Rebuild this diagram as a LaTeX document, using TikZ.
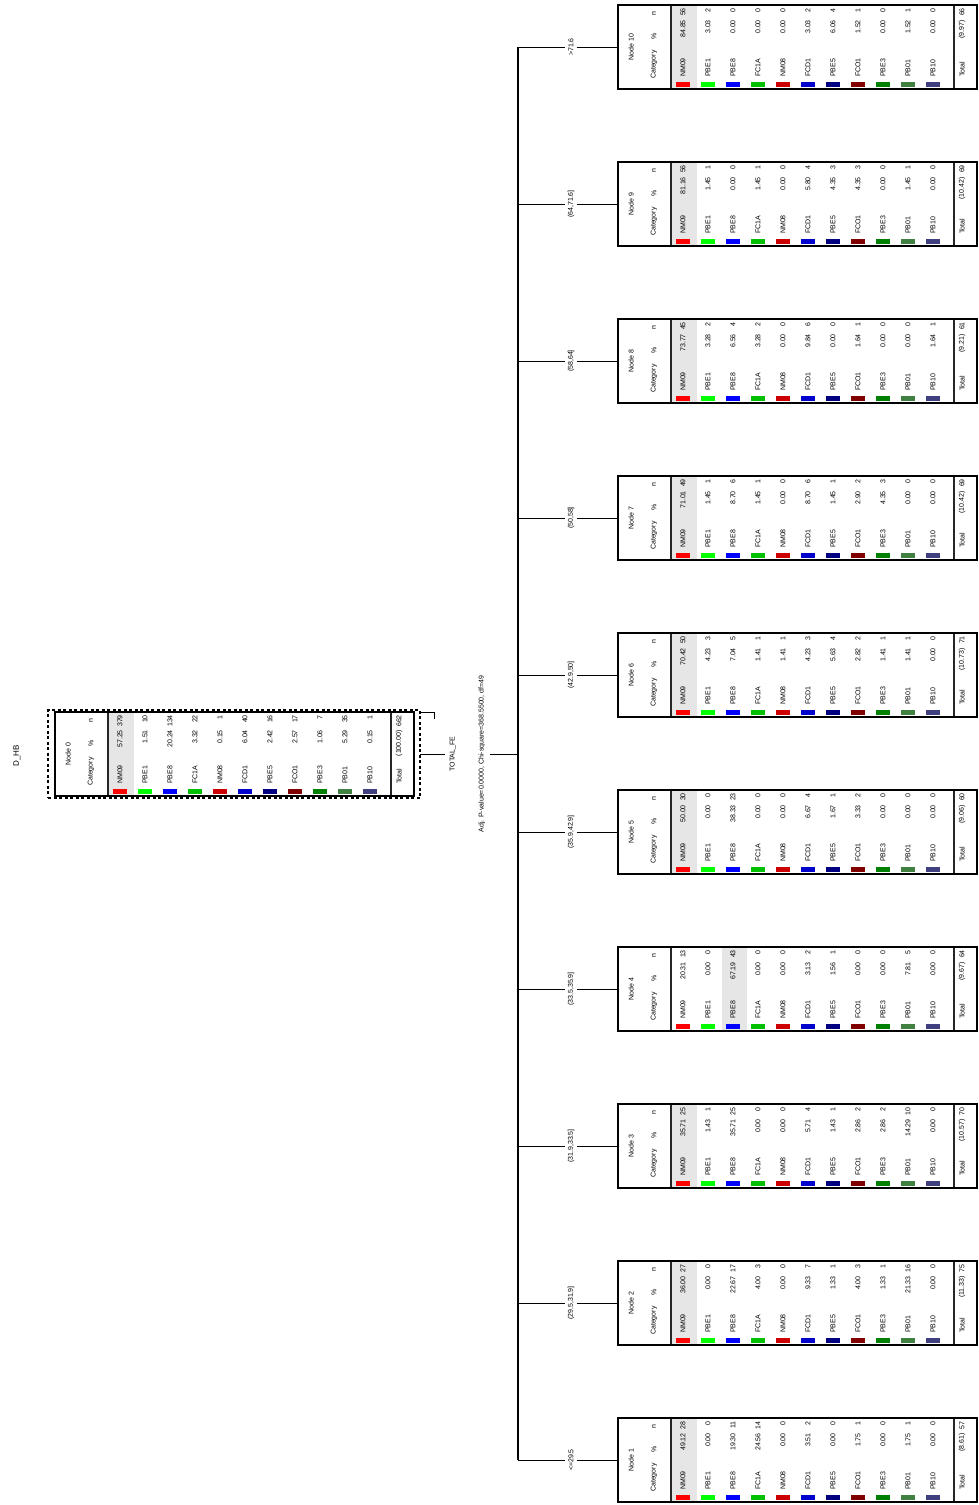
\documentclass[tikz,border=0pt]{standalone}
\usepackage{fontspec}
\setmainfont{Liberation Sans}
\definecolor{cat1}{RGB}{255,0,0}
\definecolor{cat2}{RGB}{0,255,0}
\definecolor{cat3}{RGB}{0,0,255}
\definecolor{cat4}{RGB}{0,192,0}
\definecolor{cat5}{RGB}{204,0,0}
\definecolor{cat6}{RGB}{0,0,204}
\definecolor{cat7}{RGB}{0,0,128}
\definecolor{cat8}{RGB}{128,0,0}
\definecolor{cat9}{RGB}{0,128,0}
\definecolor{cat10}{RGB}{64,128,64}
\definecolor{cat11}{RGB}{64,64,128}
\definecolor{hlgray}{RGB}{230,230,230}
\newcommand{\catname}[1]{\ifcase#1\or NM09\or PBE1\or PBE8\or FC1A\or NM08\or FCD1\or PBE5\or FCO1\or PBE3\or PB01\or PB10\fi}
\tikzset{
  txt/.style={rotate=90, inner sep=0pt, font=\fontsize{7}{8}\selectfont},
  tblbox/.style={draw, line width=1.2pt, inner sep=0pt, outer sep=0pt, anchor=north west, minimum width=359pt, minimum height=84pt},
  sepline/.style={line width=1.6pt, draw=black!85},
  conn/.style={line width=1pt},
  brlabel/.style={txt, inner sep=3pt}
}
% #1 name #2 L #3 T #4 title #5 highlighted row #6 rows #7 total pct #8 total n #9 pct column offset
\newcommand{\nodetable}[9]{%
  \fill[hlgray] ({#2+54+25*(#5-1)},{#3+1}) rectangle ({#2+79+25*(#5-1)},{#3+83});
  \node[tblbox] (#1) at (#2,#3) {};
  \draw[sepline] ({#2+53},{#3+1}) -- ({#2+53},{#3+83});
  \draw[sepline] ({#2+336},{#3+1}) -- ({#2+336},{#3+83});
  \node[txt] (#1-t) at ({#2+13},{#3+42}) {#4};
  \node[txt,anchor=west] (#1-hc) at ({#2+36},{#3+74}) {Category};
  \node[txt] (#1-hp) at ({#2+36},{#3+31}) {\%};
  \node[txt] (#1-hn) at ({#2+36},{#3+9}) {n};
  \foreach \pc/\nc [count=\i] in {#6} {
    \fill[cat\i] ({#2+58+25*(\i-1)},{#3+77}) rectangle ++(14,5);
    \node[txt,anchor=west] (#1-c\i) at ({#2+65+25*(\i-1)},{#3+72}) {\catname{\i}};
    \node[txt,anchor=east] (#1-p\i) at ({#2+65+25*(\i-1)},{#3+#9}) {\pc};
    \node[txt,anchor=east] (#1-n\i) at ({#2+65+25*(\i-1)},{#3+3}) {\nc};
  }
  \node[txt,anchor=west] (#1-tl) at ({#2+344},{#3+72}) {Total};
  \node[txt,anchor=east] (#1-tp) at ({#2+344},{#3+#9}) {(#7)};
  \node[txt,anchor=east] (#1-tn) at ({#2+344},{#3+3}) {#8};
}
\begin{document}
\begin{tikzpicture}[x=1pt,y=-1pt]
\useasboundingbox (0,0) rectangle (978,1505);
% root
\node[draw, dashed, dash pattern=on 3pt off 2.5pt, line width=1.4pt, minimum width=372pt, minimum height=88pt, inner sep=0pt, outer sep=0pt] (n0sel) at (234,754) {};
\draw[line width=1pt] (n0sel.north east) ++(0,2) -- ++(14,0) -- ++(0,7);
\nodetable{n0}{55}{712}{Node 0}{1}{57.25/379, 1.51/10, 20.24/134, 3.32/22, 0.15/1, 6.04/40, 2.42/16, 2.57/17, 1.06/7, 5.29/35, 0.15/1}{100.00}{662}{18}
\node[txt, font=\fontsize{8}{9}\selectfont] (dep) at (17,756) {D\_HB};
% split
\node[txt, inner sep=5pt, align=center] (split) at (467.5,754) {TOTAL\_FE\\[21pt]Adj. P-value=0.0000, Chi-square=368.5500, df=49};
\coordinate (bar) at (518,754);
\draw[conn] (n0sel.east) -- (split.north);
\draw[conn] (split.south) -- (bar);
% bar coordinates
\foreach \k in {1,...,10} {
  \coordinate (b\k) at (518,{1460-157*(\k-1)});
}
\draw[line width=1.3pt] (b10) -- (b1);
% leaves
\nodetable{n1}{618}{1418}{Node 1}{1}{49.12/28, 0.00/0, 19.30/11, 24.56/14, 0.00/0, 3.51/2, 0.00/0, 1.75/1, 0.00/0, 1.75/1, 0.00/0}{8.61}{57}{15}
\nodetable{n2}{618}{1261}{Node 2}{1}{36.00/27, 0.00/0, 22.67/17, 4.00/3, 0.00/0, 9.33/7, 1.33/1, 4.00/3, 1.33/1, 21.33/16, 0.00/0}{11.33}{75}{15}
\nodetable{n3}{618}{1104}{Node 3}{1}{35.71/25, 1.43/1, 35.71/25, 0.00/0, 0.00/0, 5.71/4, 1.43/1, 2.86/2, 2.86/2, 14.29/10, 0.00/0}{10.57}{70}{15}
\nodetable{n4}{618}{947}{Node 4}{3}{20.31/13, 0.00/0, 67.19/43, 0.00/0, 0.00/0, 3.13/2, 1.56/1, 0.00/0, 0.00/0, 7.81/5, 0.00/0}{9.67}{64}{15}
\nodetable{n5}{618}{790}{Node 5}{1}{50.00/30, 0.00/0, 38.33/23, 0.00/0, 0.00/0, 6.67/4, 1.67/1, 3.33/2, 0.00/0, 0.00/0, 0.00/0}{9.06}{60}{15}
\nodetable{n6}{618}{633}{Node 6}{1}{70.42/50, 4.23/3, 7.04/5, 1.41/1, 1.41/1, 4.23/3, 5.63/4, 2.82/2, 1.41/1, 1.41/1, 0.00/0}{10.73}{71}{15}
\nodetable{n7}{618}{476}{Node 7}{1}{71.01/49, 1.45/1, 8.70/6, 1.45/1, 0.00/0, 8.70/6, 1.45/1, 2.90/2, 4.35/3, 0.00/0, 0.00/0}{10.42}{69}{15}
\nodetable{n8}{618}{319}{Node 8}{1}{73.77/45, 3.28/2, 6.56/4, 3.28/2, 0.00/0, 9.84/6, 0.00/0, 1.64/1, 0.00/0, 0.00/0, 1.64/1}{9.21}{61}{15}
\nodetable{n9}{618}{162}{Node 9}{1}{81.16/56, 1.45/1, 0.00/0, 1.45/1, 0.00/0, 5.80/4, 4.35/3, 4.35/3, 0.00/0, 1.45/1, 0.00/0}{10.42}{69}{15}
\nodetable{n10}{618}{5}{Node 10}{1}{84.85/56, 3.03/2, 0.00/0, 0.00/0, 0.00/0, 3.03/2, 6.06/4, 1.52/1, 0.00/0, 1.52/1, 0.00/0}{9.97}{66}{15}
% branch labels
\foreach \k/\lab in {1/{<=29.5}, 2/{(29.5,31.9]}, 3/{(31.9,33.5]}, 4/{(33.5,35.9]}, 5/{(35.9,42.9]}, 6/{(42.9,50]}, 7/{(50,58]}, 8/{(58,64]}, 9/{(64,71.6]}, 10/{>71.6}} {
  \node[brlabel] (l\k) at (571,{1460-157*(\k-1)}) {\lab};
  \draw[conn] (b\k) -- (l\k.north);
  \draw[conn] (l\k.south) -- (n\k.west);
}
\end{tikzpicture}
\end{document}
